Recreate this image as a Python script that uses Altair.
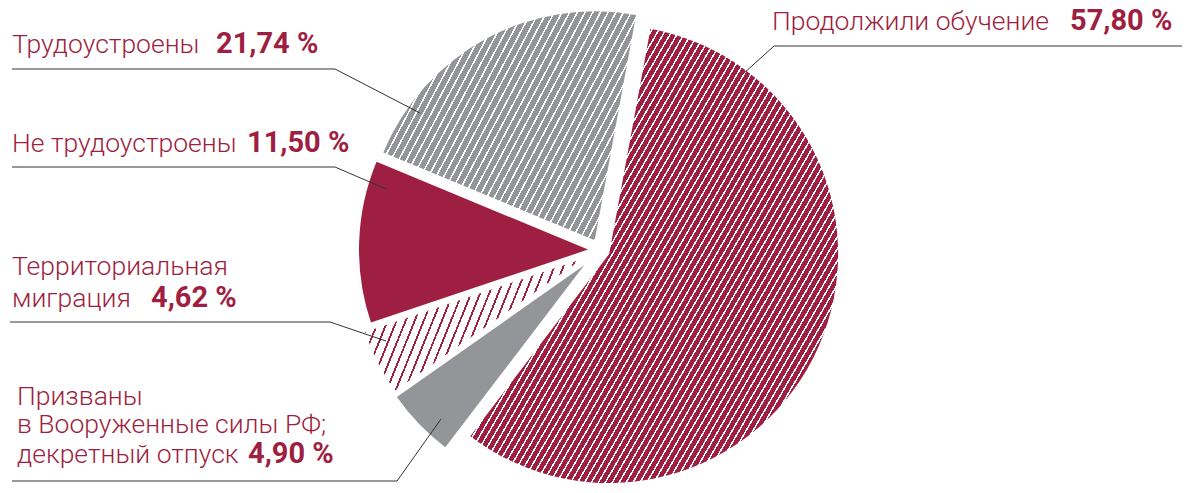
import math
import altair as alt
import pandas as pd

# ---------------- data ----------------
categories = [
    "Продолжили обучение",
    "Призваны в Вооруженные силы РФ; декретный отпуск",
    "Территориальная миграция",
    "Не трудоустроены",
    "Трудоустроены",
]
values = [57.80, 4.90, 4.62, 11.50, 21.74]
label_lines = [
    ["Продолжили обучение"],
    ["Призваны", "в Вооруженные силы РФ;", "декретный отпуск"],
    ["Территориальная", "миграция"],
    ["Не трудоустроены"],
    ["Трудоустроены"],
]

# ---------------- layout / style ----------------
PAD_TOP = 8
W, H = 1176, 469
MX, MY = 8, 8 + PAD_TOP          # screen offset of the plot origin
CX, CY = 600 - MX, 250 - MY      # pie centre (chart coords)
R = 229
START = math.radians(10.4)
EXPLODE = [10, 22, 20, 12, 11]
RED = "#9E1F41"
GRAY = "#949598"
WHITE = "#FFFFFF"
LINE = "#333333"
FONT = "Roboto"
FS = 26.5
FS_BOLD = 29

# fill style for each slice: solid colour or hatch (bg, fg, period, line width, angle)
STYLES = [
    ("hatch", RED, WHITE, 6.0, 1.5, 60),
    ("solid", GRAY),
    ("hatch", WHITE, RED, 8.4, 1.8, 68),
    ("solid", RED),
    ("hatch", GRAY, WHITE, 6.8, 1.6, 62),
]

# label placement (screen coords): text lines [(x, baseline)], bold number (x, baseline), leader polyline
LABEL_POS = [
    dict(lines=[(772, 30)], num=(1070, 30), lead=[(1182, 46), (774, 46), (743, 74)]),
    dict(lines=[(17, 405), (17, 433), (17, 463)], num=(248, 463), lead=[(12, 481), (397, 481), (441, 419)]),
    dict(lines=[(12, 275), (12, 307)], num=(151, 307), lead=[(10, 322), (330, 322), (386, 341)]),
    dict(lines=[(12, 152)], num=(247, 152), lead=[(12, 167), (335, 167), (386, 189)]),
    dict(lines=[(12, 53)], num=(216, 53), lead=[(12, 69), (335, 69), (420, 113)]),
]

df = pd.DataFrame({
    "order": list(range(len(categories))),
    "category": categories,
    "value": values,
    "explode": EXPLODE,
})

# python-side geometry (only for the hatch bounding boxes)
total = sum(values)
cum = 0.0
bboxes = []
for v, e in zip(values, EXPLODE):
    a0 = START + 2 * math.pi * cum / total
    cum += v
    a1 = START + 2 * math.pi * cum / total
    mid = (a0 + a1) / 2
    ax, ay = CX + e * math.sin(mid), CY - e * math.cos(mid)
    pts = [(ax, ay)] + [
        (ax + R * math.sin(a0 + (a1 - a0) * t / 200), ay - R * math.cos(a0 + (a1 - a0) * t / 200))
        for t in range(201)
    ]
    xs = [p[0] for p in pts]
    ys = [p[1] for p in pts]
    bboxes.append((max(xs) - min(xs), max(ys) - min(ys)))


def hatch(bg, fg, period, lw, ang, w, h):
    th = math.radians(ang)
    s, c = math.sin(th), math.cos(th)
    k = (w * s + h * c) / (w * w * s * s + h * h * c * c)
    a, b = k * w * s, k * h * c
    L = w * s + h * c
    stops = [alt.GradientStop(color=bg, offset=0)]
    i = 0
    while True:
        t0 = (i * period + 1.0) / L
        t1 = (i * period + 1.0 + lw) / L
        if t1 >= 1:
            break
        stops += [
            alt.GradientStop(color=bg, offset=t0),
            alt.GradientStop(color=fg, offset=t0),
            alt.GradientStop(color=fg, offset=t1),
            alt.GradientStop(color=bg, offset=t1),
        ]
        i += 1
    stops.append(alt.GradientStop(color=bg, offset=1))
    return alt.LinearGradient(gradient="linear", stops=stops, x1=0, y1=0, x2=a, y2=b)


base = (
    alt.Chart(df)
    .transform_window(cum="sum(value)", sort=[alt.SortField("order")], frame=[None, 0])
    .transform_joinaggregate(total="sum(value)")
    .transform_calculate(
        a0=f"{START} + 2*PI*(datum.cum - datum.value)/datum.total",
        a1=f"{START} + 2*PI*datum.cum/datum.total",
    )
    .transform_calculate(mid="(datum.a0 + datum.a1)/2")
    .transform_calculate(
        cx=f"{CX} + datum.explode*sin(datum.mid)",
        cy=f"{CY} - datum.explode*cos(datum.mid)",
    )
)

layers = []
for i, st in enumerate(STYLES):
    if st[0] == "solid":
        fill = st[1]
    else:
        _, bg, fg, per, lw, ang = st
        fill = hatch(bg, fg, per, lw, ang, *bboxes[i])
    layers.append(
        base.transform_filter(f"datum.order == {i}")
        .mark_arc(radius=R, fill=fill, strokeWidth=0)
        .encode(
            theta=alt.Theta("a0:Q", scale=None),
            theta2=alt.Theta2("a1:Q"),
            x=alt.X("cx:Q", scale=None, axis=None),
            y=alt.Y("cy:Q", scale=None, axis=None),
        )
    )

# leader lines
seg_rows = []
for pos in LABEL_POS:
    pts = pos["lead"]
    for (x1, y1), (x2, y2) in zip(pts[:-1], pts[1:]):
        seg_rows.append(dict(x=x1 - MX, y=y1 - MY, x2=x2 - MX, y2=y2 - MY))
seg = alt.Chart(pd.DataFrame(seg_rows)).mark_rule(color=LINE, strokeWidth=1).encode(
    x=alt.X("x:Q", scale=None, axis=None),
    y=alt.Y("y:Q", scale=None, axis=None),
    x2="x2:Q",
    y2="y2:Q",
)

# texts
txt_rows = []
for lines, pos, v in zip(label_lines, LABEL_POS, values):
    for t, (x, y) in zip(lines, pos["lines"]):
        txt_rows.append(dict(x=x - MX, y=y - MY, text=t, bold=0))
    nx, ny = pos["num"]
    txt_rows.append(dict(x=nx - MX, y=ny - MY, text=f"{v:.2f}".replace(".", ",") + " %", bold=1))
tdf = pd.DataFrame(txt_rows)

normal = alt.Chart(tdf).transform_filter("datum.bold == 0").mark_text(
    align="left", baseline="alphabetic", font=FONT, fontSize=FS, fontWeight=300, color=RED
).encode(
    x=alt.X("x:Q", scale=None, axis=None),
    y=alt.Y("y:Q", scale=None, axis=None),
    text="text:N",
)
bold = alt.Chart(tdf).transform_filter("datum.bold == 1").mark_text(
    align="left", baseline="alphabetic", font=FONT, fontSize=FS_BOLD, fontWeight="bold", color=RED
).encode(
    x=alt.X("x:Q", scale=None, axis=None),
    y=alt.Y("y:Q", scale=None, axis=None),
    text="text:N",
)

chart = (
    alt.layer(*layers, seg, normal, bold)
    .properties(
        width=W,
        height=H,
        padding={"left": 0, "top": PAD_TOP, "right": 0, "bottom": 0},
        autosize=alt.AutoSizeParams(type="none"),
    )
    .configure_view(strokeWidth=0)
)

chart.save("out.html", embed_options={"renderer": "svg", "actions": False})
